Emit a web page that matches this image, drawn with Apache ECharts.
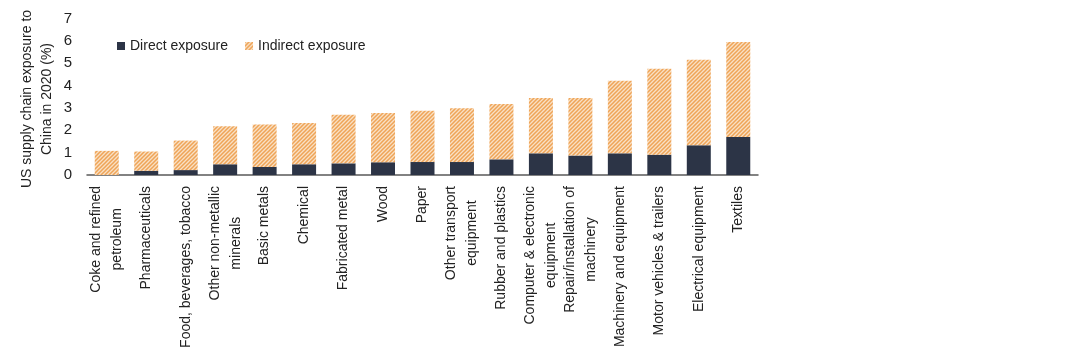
<!DOCTYPE html>
<html>
<head>
<meta charset="utf-8">
<script src="https://cdn.jsdelivr.net/npm/echarts@6/dist/echarts.min.js"></script>
<style>html,body{margin:0;padding:0;background:#fff}#c{width:1088px;height:360px}</style>
</head>
<body>
<div id="c"></div>
<script>
const categories = [
  "Coke and refined\npetroleum", "Pharmaceuticals", "Food, beverages, tobacco",
  "Other non-metallic\nminerals", "Basic metals", "Chemical", "Fabricated metal",
  "Wood", "Paper", "Other transport\nequipment", "Rubber and plastics",
  "Computer & electronic\nequipment", "Repair/installation of\nmachinery",
  "Machinery and equipment", "Motor vehicles & trailers", "Electrical equipment", "Textiles"
];
const direct   = [0.00, 0.19, 0.22, 0.48, 0.36, 0.48, 0.52, 0.57, 0.58, 0.58, 0.70, 0.97, 0.87, 0.97, 0.91, 1.33, 1.70];
const indirect = [1.08, 0.86, 1.32, 1.70, 1.90, 1.85, 2.17, 2.20, 2.29, 2.41, 2.48, 2.47, 2.57, 3.25, 3.84, 3.83, 4.25];
const yTicks = [0, 1, 2, 3, 4, 5, 6, 7];
const yAxisName = 'US supply chain exposure to\nChina in 2020 (%)';

const FONT = '"Liberation Sans", Arial, sans-serif';

function hatch() {
  const c = document.createElement('canvas');
  c.width = 4; c.height = 4;
  const g = c.getContext('2d');
  g.fillStyle = '#f9e0c4';
  g.fillRect(0, 0, 4, 4);
  g.strokeStyle = '#efa457';
  g.lineWidth = 1.5;
  g.beginPath();
  g.moveTo(-1, 5); g.lineTo(5, -1);
  g.moveTo(-1, 1); g.lineTo(1, -1);
  g.moveTo(3, 5); g.lineTo(5, 3);
  g.stroke();
  return c;
}

const chart = echarts.init(document.getElementById('c'));
chart.setOption({
  animation: false,
  textStyle: { fontFamily: FONT },
  legend: {
    left: 112, top: 34,
    itemWidth: 8, itemHeight: 8, itemGap: 17,
    textStyle: { fontSize: 14, color: '#222', fontFamily: FONT },
    data: [{ name: 'Direct exposure', icon: 'rect' }, { name: 'Indirect exposure', icon: 'rect' }]
  },
  graphic: [{
    type: 'text', x: 37, y: 99, rotation: Math.PI / 2,
    style: { text: yAxisName, fontSize: 14, lineHeight: 20, fill: '#222', fontFamily: FONT,
      align: 'center', verticalAlign: 'middle' }
  }],
  grid: { left: 87, right: 330, top: 18.5, bottom: 185, containLabel: false, outerBoundsMode: 'none' },
  xAxis: {
    type: 'category',
    data: categories,
    axisLine: { lineStyle: { color: '#595959', width: 1.5 } },
    axisTick: { show: false },
    axisLabel: {
      rotate: 90, interval: 0, margin: 11,
      fontSize: 14, color: '#222', fontFamily: FONT,
      formatter: v => v.split('\n').map(s => '{a|' + s + '}').join('\n'),
      rich: { a: { align: 'center', fontSize: 14, lineHeight: 21, color: '#222', fontFamily: FONT } }
    }
  },
  yAxis: {
    type: 'value', min: 0, max: 7, interval: 1,
    axisLine: { show: false }, axisTick: { show: false }, splitLine: { show: false },
    axisLabel: { fontSize: 15, color: '#222', margin: 15, fontFamily: FONT,
      formatter: v => yTicks.includes(v) ? String(v) : '' }
  },
  series: [
    { name: 'Direct exposure', type: 'bar', stack: 's', data: direct, barWidth: 24,
      itemStyle: { color: '#2c3446' } },
    { name: 'Indirect exposure', type: 'bar', stack: 's', data: indirect, barWidth: 24,
      itemStyle: { color: { image: hatch(), repeat: 'repeat' } } }
  ]
});
</script>
</body>
</html>
